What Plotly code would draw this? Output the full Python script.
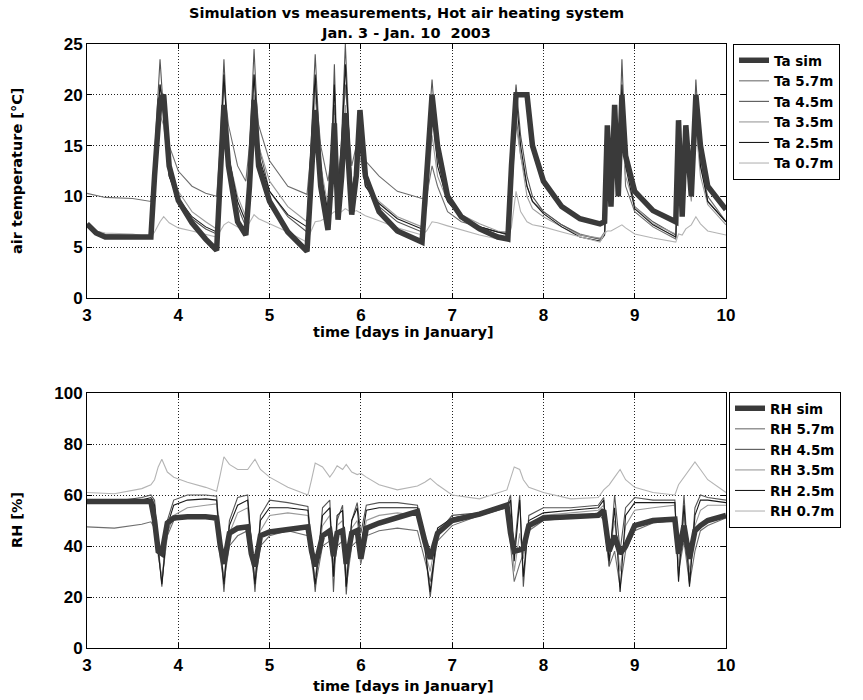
import plotly.graph_objects as go

# time knots (days in January) for the temperature plot
t_ta = [3.00, 3.10, 3.20, 3.50, 3.70, 3.74, 3.80, 3.84, 3.90, 4.00,
        4.15, 4.30, 4.42, 4.46, 4.50, 4.55, 4.65, 4.74, 4.78, 4.83,
        4.88, 5.00, 5.20, 5.41, 5.45, 5.50, 5.56, 5.64, 5.68, 5.71,
        5.75, 5.79, 5.83, 5.90, 5.95, 5.99, 6.05, 6.20, 6.40, 6.67,
        6.72, 6.78, 6.84, 6.95, 7.10, 7.30, 7.50, 7.61, 7.65, 7.70,
        7.75, 7.82, 7.88, 8.00, 8.20, 8.40, 8.62, 8.67, 8.70, 8.74,
        8.78, 8.82, 8.86, 8.90, 9.00, 9.20, 9.45, 9.48, 9.52, 9.56,
        9.62, 9.67, 9.72, 9.80, 10.00]

ta_sim = [7.3, 6.4, 6.0, 6.0, 6.0, 12, 19.5, 20, 13, 9.6,
          7.4, 5.8, 4.7, 12, 19, 13, 7.5, 6.2, 11, 19.5,
          13, 9.5, 6.5, 4.6, 12, 18.5, 11, 6.7, 12, 17.2,
          7.7, 12, 18.2, 8.2, 12, 18.5, 12, 8.5, 6.6, 5.5,
          12, 20, 15, 10, 8, 6.8, 6.0, 5.8, 13, 20,
          20, 20, 15, 11.5, 9, 7.8, 7.3, 7.5, 17, 9,
          19, 10, 20, 14, 10.5, 8.6, 7.5, 17.5, 8, 17,
          10, 20, 15, 11, 8.7]
ta_57 = [10.3, 10.1, 9.9, 9.8, 9.5, 13, 21, 19, 15, 12.5,
         11, 10.3, 10, 15, 21, 17, 13, 11.5, 15, 22,
         17, 13.5, 11, 10.2, 14, 21, 15, 11.5, 14, 19,
         12, 15, 21, 13, 15, 17, 13.5, 12, 10.5, 9.8,
         10, 13, 11, 8.5, 7.5, 7, 6.5, 6.5, 10, 18,
         14, 11, 9.5, 8.5, 7.2, 6.3, 5.8, 6.5, 14, 11,
         17, 12, 19, 11, 8.5, 7, 5.8, 12, 9, 14,
         10, 19, 13, 10, 7.5]
ta_45 = [7.0, 6.5, 6.2, 6.1, 6.0, 14, 23.5, 18, 12, 9.5,
         7.8, 6.8, 6.3, 15, 23.5, 14, 9, 7, 14, 24.5,
         15, 10.5, 8, 6.5, 15, 24, 13, 8, 14, 23,
         10, 16, 25, 10, 13, 15, 11, 9, 7.5, 6.5,
         14, 21.5, 14, 9.5, 8, 7, 6.5, 6.2, 15, 21,
         16, 12, 10, 8.5, 7.2, 6.2, 5.8, 6.3, 15, 10,
         18, 12, 23.5, 14, 9, 7.5, 6.2, 14, 9, 16,
         10, 21.5, 14, 9.5, 7.5]
ta_35 = [7.2, 6.6, 6.3, 6.2, 6.1, 11, 18, 17, 12.5, 10.5,
         8.5, 7.5, 6.8, 12, 18, 14, 10, 8, 12, 20,
         15, 11.5, 9, 7.5, 12, 20, 13, 9, 13, 18,
         10, 14, 19, 10.5, 12, 14, 11, 9.5, 8, 7,
         9, 16, 12, 9.5, 8.2, 7.3, 6.6, 6.4, 12, 17,
         14, 10, 8.8, 8, 7, 6.2, 5.9, 6.3, 12, 9.5,
         15, 11, 19, 12, 9, 7.3, 6.3, 12, 9, 14,
         9.5, 17, 12, 9.2, 7.2]
ta_25 = [7.1, 6.5, 6.2, 6.1, 6.0, 13, 21, 18, 12, 9.8,
         8, 7, 6.5, 14, 22, 14, 9.5, 7.5, 13, 22,
         14, 10.5, 8.2, 7, 14, 22, 12, 8.5, 14, 21,
         10, 15, 23, 10.5, 13, 15, 11, 9.3, 7.8, 6.8,
         12, 19, 13, 9.5, 8, 7, 6.5, 6.3, 14, 20,
         15, 11, 9.5, 8.3, 7, 6, 5.6, 6.2, 14, 10,
         17, 11, 21, 13, 8.8, 7.2, 6, 13, 9, 15,
         10, 19, 13, 9.5, 7.5]
ta_07 = [7.0, 6.6, 6.4, 6.3, 6.0, 6.5, 7.5, 8.0, 7.4, 6.9,
         6.6, 6.3, 6.0, 6.6, 7.2, 7.5, 7.0, 6.8, 7.4, 8.2,
         7.8, 7.3, 6.5, 5.5, 6.5, 7.5, 7.6, 8.0, 8.3, 8.5,
         8.3, 8.5, 8.8, 8.4, 8.6, 8.4, 8.1, 7.6, 6.9, 6.2,
         6.6, 7.5, 7.4, 7.1, 6.7, 6.2, 5.8, 5.8, 7.0, 10.5,
         8.5, 7.5, 7.2, 7.0, 6.5, 6.0, 5.5, 6.4, 6.6, 6.6,
         6.8, 7.0, 7.2, 6.9, 6.3, 5.9, 5.5, 6.3, 6.2, 6.8,
         7.2, 8.0, 7.3, 6.6, 6.2]

# time knots for the humidity plot
t_rh = [3.00, 3.30, 3.60, 3.70, 3.74, 3.78, 3.82, 3.88, 3.95, 4.10,
        4.30, 4.42, 4.46, 4.50, 4.56, 4.65, 4.76, 4.80, 4.84, 4.90,
        5.00, 5.20, 5.42, 5.46, 5.50, 5.58, 5.66, 5.70, 5.74, 5.80,
        5.84, 5.90, 5.96, 6.00, 6.06, 6.20, 6.40, 6.62, 6.70, 6.76,
        6.84, 7.00, 7.30, 7.60, 7.64, 7.68, 7.74, 7.78, 7.84, 8.00,
        8.30, 8.60, 8.66, 8.72, 8.78, 8.84, 8.90, 9.00, 9.20, 9.44,
        9.48, 9.54, 9.60, 9.66, 9.72, 9.80, 10.00]

rh_sim = [57.5, 57.5, 57.5, 57.5, 50, 38, 37, 49, 51, 51.5,
          51.5, 51, 40, 33, 45, 47, 47.5, 37, 32, 44,
          45.5, 46.5, 47.5, 38, 32, 44, 46, 36, 45, 46,
          33, 45, 46, 35, 47, 49, 51, 53.5, 42, 35,
          45, 50, 52.5, 56, 45, 38, 38.5, 39, 48, 51,
          51.5, 52, 54, 38, 44, 37, 40, 48, 50, 50.5,
          37, 48, 35, 46, 48, 50, 52]
rh_57 = [47.5, 47, 48.5, 49.5, 47, 38, 26, 44, 50, 52,
         51, 50, 35, 26, 40, 44, 46, 35, 25, 40,
         44, 46, 44, 34, 24, 40, 42, 30, 40, 42,
         24, 40, 42, 33, 44, 46, 47, 46, 35, 26,
         42, 48, 52, 55, 40, 26, 33, 37, 46, 50,
         51, 53, 50, 32, 38, 24, 38, 46, 49, 50,
         30, 42, 25, 38, 46, 48, 51]
rh_45 = [57, 57.5, 59, 60, 58, 40, 24, 50, 58, 60,
         60, 59.5, 40, 22, 50, 59, 60, 40, 22, 52,
         58, 57, 55.5, 40, 22, 55, 58, 22, 50, 56,
         21, 50, 57, 45, 56, 57, 57, 56, 40, 20,
         45, 52, 53, 55.5, 60, 38, 60, 24, 52, 55,
         55, 56, 59, 32, 60, 38, 55, 59, 58, 58,
         28, 60, 26, 55, 60, 59, 58]
rh_35 = [57, 57, 57.5, 58, 54, 36, 28, 45, 52, 55,
         56, 56.5, 38, 28, 45, 53, 55, 38, 28, 46,
         52, 53, 52, 36, 28, 48, 52, 32, 48, 50,
         28, 47, 50, 38, 50, 52, 53, 52, 38, 30,
         46, 50, 52, 55, 50, 30, 45, 35, 48, 52,
         53, 54, 56, 36, 50, 30, 48, 54, 55, 56,
         32, 52, 30, 48, 54, 56, 56]
rh_25 = [57, 57, 58, 59, 56, 38, 25, 48, 56, 58,
         58.5, 58, 40, 25, 48, 56, 58, 40, 25, 50,
         55, 55, 54, 38, 25, 52, 55, 28, 52, 54,
         24, 50, 55, 40, 54, 55, 55, 55, 40, 22,
         47, 51, 53, 55, 58, 34, 58, 28, 50, 53,
         54, 55, 58, 34, 55, 22, 52, 57, 57, 57,
         26, 56, 24, 52, 58, 58, 57]
rh_07 = [61, 60.5, 62.5, 64, 66, 71, 74, 69, 67, 65,
         63, 61.5, 68, 75, 72, 70, 70, 72, 74, 70,
         67, 63, 60, 66, 72.5, 71, 67, 69, 71.5, 70,
         72, 69, 68, 68.5, 67, 64, 62, 63.5, 65, 66.5,
         64, 60, 58.5, 62, 67, 71, 70, 66, 63, 61,
         58.5, 59, 62, 64, 67, 70, 66, 63, 61, 60,
         64, 67, 70, 73, 70, 66, 61]

ta_names = ["Ta sim", "Ta 5.7m", "Ta 4.5m", "Ta 3.5m", "Ta 2.5m", "Ta 0.7m"]
rh_names = ["RH sim", "RH 5.7m", "RH 4.5m", "RH 3.5m", "RH 2.5m", "RH 0.7m"]

ta_series = [ta_sim, ta_57, ta_45, ta_35, ta_25, ta_07]
rh_series = [rh_sim, rh_57, rh_45, rh_35, rh_25, rh_07]

colors = ["#3a3a3a", "#6e6e6e", "#555555", "#9a9a9a", "#1a1a1a", "#b4b4b4"]
widths = [5.5, 1.1, 1.1, 1.1, 1.1, 1.1]

FONT = "Liberation Sans"
WIDE = "DejaVu Sans"

fig = go.Figure()

# measurements first, simulation drawn on top
order = [1, 2, 3, 4, 5, 0]
for i in order:
    fig.add_trace(go.Scatter(
        x=t_ta, y=ta_series[i], mode="lines", name=ta_names[i],
        line=dict(color=colors[i], width=widths[i]),
        xaxis="x", yaxis="y", legend="legend", legendrank=i + 1,
    ))
for i in order:
    fig.add_trace(go.Scatter(
        x=t_rh, y=rh_series[i], mode="lines", name=rh_names[i],
        line=dict(color=colors[i], width=widths[i]),
        xaxis="x2", yaxis="y2", legend="legend2", legendrank=i + 1,
    ))

W, H = 863, 700


def fx(px):
    return px / W


def fy(py):
    return 1 - py / H


axis_common = dict(
    showline=True, linecolor="black", linewidth=1, mirror="ticks",
    ticks="inside", ticklen=5, tickcolor="black",
    showgrid=True, gridcolor="#222222", griddash="1px,2px", gridwidth=1,
    zeroline=False, automargin=False,
    tickfont=dict(family=FONT, size=17, color="black", weight="bold"),
)

legend_common = dict(
    xanchor="left", yanchor="top",
    bordercolor="black", borderwidth=1, bgcolor="white",
    font=dict(family=WIDE, size=13.5, color="black", weight="bold"),
    traceorder="normal", itemwidth=30,
)

fig.update_layout(
    width=W, height=H, autosize=False,
    margin=dict(l=0, r=0, t=0, b=0, autoexpand=False),
    paper_bgcolor="white", plot_bgcolor="white",
    xaxis=dict(domain=[fx(87), fx(726)], range=[3, 10], dtick=1, anchor="y",
               ticklabelstandoff=2, **axis_common),
    yaxis=dict(domain=[fy(298), fy(44)], range=[0, 25], dtick=5, anchor="x", **axis_common),
    xaxis2=dict(domain=[fx(87), fx(726)], range=[3, 10], dtick=1, anchor="y2",
                ticklabelstandoff=2, **axis_common),
    yaxis2=dict(domain=[fy(648), fy(393)], range=[0, 100], dtick=20, anchor="x2", **axis_common),
    legend=dict(x=fx(733), y=fy(44), **legend_common),
    legend2=dict(x=fx(729), y=fy(392), **legend_common),
)

title_font = dict(family=WIDE, size=14.5, color="black", weight="bold")


def label(text, px, py, angle=0):
    fig.add_annotation(text=text, x=fx(px), y=fy(py), xref="paper", yref="paper",
                       xanchor="center", yanchor="middle", textangle=angle,
                       showarrow=False, font=title_font)


label("Simulation vs measurements, Hot air heating system", 406, 13)
label("Jan. 3 - Jan. 10  2003", 406, 33)
label("time [days in January]", 403, 332)
label("time [days in January]", 403, 686)
label("air temperature [°C]", 17, 171, -90)
label("RH [%]", 17, 520, -90)

# drop the default page margin so the figure fills the window
fig.write_html("out.html", config={"displayModeBar": False},
               post_script="document.body.style.margin = '0px';")
